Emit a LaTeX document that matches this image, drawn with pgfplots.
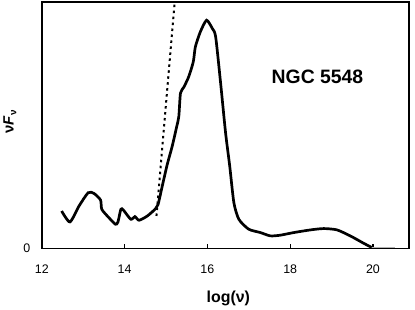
\documentclass[border=0pt]{standalone}
\usepackage{fontspec}
\setmainfont{Liberation Sans}
\usepackage{pgfplots}
\pgfplotsset{compat=1.18}
\begin{document}
\begin{tikzpicture}
\begin{axis}[
  scale only axis,
  width=368bp, height=247bp,
  xmin=12, xmax=20.87,
  ymin=0, ymax=743,
  xtick={12,14,16,18,20},
  ytick={0},
  tick align=inside,
  xtick pos=bottom,
  ytick pos=left,
  major tick length=4bp,
  ytick style={draw=none},
  axis line style={line width=1.6bp},
  x tick style={line width=1.2bp, black},
  /pgf/number format/assume math mode=true,
  ticklabel style={font=\fontsize{12.5}{14}\selectfont},
  xticklabel style={anchor=center, yshift=-20.5bp},
  yticklabel style={anchor=center, xshift=-15bp},
  xlabel={\textbf{log(ν)}},
  xlabel style={font=\fontsize{16}{18}\selectfont, at={(axis description cs:0.508,-0.202)}, anchor=center},
  ylabel={\textbf{ν\textit{F}}\raisebox{-0.35ex}{\fontsize{10}{11}\selectfont\bfseries ν}},
  ylabel style={font=\fontsize{15}{17}\selectfont, at={(axis description cs:-0.087,0.514)}, anchor=center},
  clip=true,
]
\addplot[black, line width=2.7bp, smooth, tension=0.4] coordinates {
(12.48,113) (12.68,80) (12.90,128) (13.12,168) (13.26,166) (13.42,146)
(13.45,118) (13.62,93) (13.78,73) (13.84,80) (13.91,118) (13.97,116)
(14.15,88) (14.25,96) (14.35,85) (14.55,98) (14.75,120) (14.81,133)
(14.91,188) (15.03,253) (15.15,308) (15.26,368) (15.31,398) (15.35,468)
(15.43,486) (15.55,518) (15.66,563) (15.71,608) (15.83,653) (15.98,688)
(16.12,663) (16.20,638) (16.32,498) (16.44,348) (16.54,248) (16.64,138)
(16.76,88) (17.00,58) (17.28,48) (17.52,38) (17.76,40) (18.09,48)
(18.49,56) (18.81,60) (19.13,56) (19.45,38) (19.77,16) (19.97,3)
};
\addplot[gray!60, line width=1bp] coordinates {(19.97,3) (20.54,3)};
\addplot[black, line width=2bp, dash pattern=on 2.5bp off 3.5bp] coordinates {
(14.77,98) (15.21,743)
};
\node[font=\bfseries\fontsize{19.5}{22}\selectfont] at (axis cs:18.66,518) {NGC 5548};
\end{axis}
\path ([xshift=-41bp,yshift=-60bp]current axis.south west) rectangle ([xshift=6bp,yshift=2bp]current axis.north east);
\end{tikzpicture}
\end{document}
